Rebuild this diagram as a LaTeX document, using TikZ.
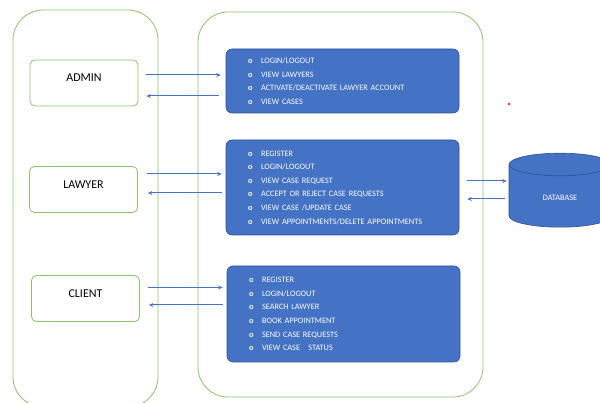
\documentclass[tikz,border=0pt]{standalone}
\usepackage{fontspec}
\setmainfont{Carlito}
\usepackage{tikz}
\usetikzlibrary{arrows.meta,shapes.geometric,calc}
\definecolor{boxgreen}{HTML}{8CC168}
\definecolor{featblue}{HTML}{4472C4}
\definecolor{featedge}{HTML}{2F528F}
\newcommand{\listmark}{\makebox[13pt][l]{\textbf{o}}}
\tikzset{
    container/.style={draw=boxgreen, line width=0.8pt, rounded corners=30pt},
    actor/.style={draw=boxgreen, line width=0.8pt, rounded corners=5pt, minimum width=108pt, minimum height=46pt, text depth=10pt, font=\fontsize{12}{14}\selectfont},
    feature/.style={draw=featedge, fill=featblue, line width=0.6pt, rounded corners=6pt, text=white, inner xsep=22pt, text width=189pt, align=left, font=\fontsize{8.3}{13.6}\selectfont},
    store/.style={cylinder, shape border rotate=90, aspect=0.55, draw=featedge, fill=featblue, line width=0.6pt, text=white, font=\fontsize{8.3}{10}\selectfont},
    flow/.style={-{Stealth[length=4.5pt, width=4pt]}, featblue, line width=1pt}
}

\begin{document}
\begin{tikzpicture}[x=1pt, y=-1pt]
    \useasboundingbox (0,0) rectangle (600,403);
    \clip (0,0) rectangle (600,403);
    % containers
    \draw[container] (13,10) rectangle (158,407);
    \draw[container] (198,12) rectangle (483,397);

    % users
    \node[actor] (admin) at (84,83) {ADMIN};
    \node[actor] (lawyer) at (83.5,189.5) {LAWYER};
    \node[actor] (client) at (85.5,298.5) {CLIENT};

    % functions
    \node[feature, minimum height=64pt] (adminf) at (342.5,81) {\listmark LOGIN/LOGOUT\\
        \listmark VIEW LAWYERS\\
        \listmark ACTIVATE/DEACTIVATE  LAWYER ACCOUNT\\
        \listmark VIEW CASES};
    \node[feature, minimum height=95pt] (lawyerf) at (342.5,187.5) {\listmark REGISTER\\
        \listmark LOGIN/LOGOUT\\
        \listmark VIEW CASE REQUEST\\
        \listmark ACCEPT OR REJECT CASE REQUESTS\\
        \listmark VIEW CASE /UPDATE CASE\\
        \listmark VIEW APPOINTMENTS/DELETE APPOINTMENTS};
    \node[feature, minimum height=96pt] (clientf) at (343.5,314) {\listmark REGISTER\\
        \listmark LOGIN/LOGOUT\\
        \listmark SEARCH LAWYER\\
        \listmark BOOK APPOINTMENT\\
        \listmark SEND CASE REQUESTS\\
        \listmark VIEW CASE\ \ \ STATUS};

    \node[store, minimum width=102pt, minimum height=74pt] (db) at (560,198) {DATABASE};
    \node[circle, fill=red, inner sep=0pt, minimum size=2.5pt] (dot) at (509,104) {};

    % arrows
    \draw[flow, shorten <=8pt, shorten >=5pt] ([yshift=8pt]admin.east) -- ([yshift=8pt]admin.east -| adminf.west);
    \draw[flow, shorten <=7pt, shorten >=8pt] ([yshift=-13pt]admin.east -| adminf.west) -- ([yshift=-13pt]admin.east);
    \draw[flow, shorten <=9pt, shorten >=4pt] ([yshift=15.5pt]lawyer.east) -- ([yshift=15.5pt]lawyer.east -| lawyerf.west);
    \draw[flow, shorten <=4pt, shorten >=10pt] ([yshift=-3.5pt]lawyer.east -| lawyerf.west) -- ([yshift=-3.5pt]lawyer.east);
    \draw[flow, shorten <=8pt, shorten >=4pt] ([yshift=11pt]client.east) -- ([yshift=11pt]client.east -| clientf.west);
    \draw[flow, shorten <=4pt, shorten >=9pt] ([yshift=-6.5pt]client.east -| clientf.west) -- ([yshift=-6.5pt]client.east);
    \draw[flow, shorten <=8pt, shorten >=2pt] ([yshift=6.5pt]lawyerf.east) -- ([yshift=6.5pt]lawyerf.east -| db.west);
    \draw[flow, shorten <=4pt, shorten >=8pt] ([yshift=-11.5pt]lawyerf.east -| db.west) -- ([yshift=-11.5pt]lawyerf.east);
\end{tikzpicture}
\end{document}
